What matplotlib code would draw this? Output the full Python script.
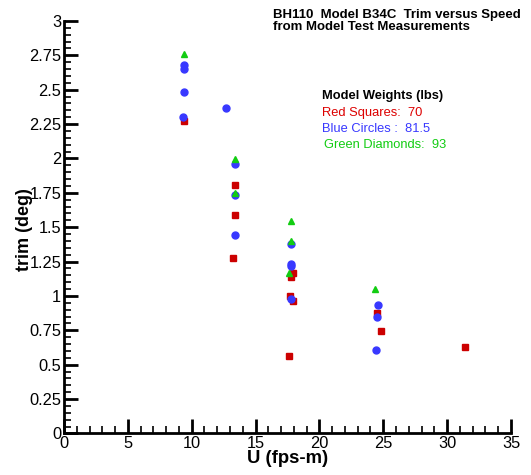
import matplotlib
matplotlib.use("Agg")
import matplotlib.pyplot as plt
from matplotlib.ticker import MultipleLocator

plt.rcParams["font.family"] = ["Liberation Sans", "DejaVu Sans"]

# Red squares: 70 lbs
red_u = [9.4, 13.4, 13.4, 13.2, 17.9, 17.8, 17.7, 17.9, 17.6, 24.5, 24.8, 31.4]
red_trim = [2.27, 1.805, 1.587, 1.274, 1.165, 1.136, 1.002, 0.961, 0.561, 0.876, 0.743, 0.627]

# Blue circles: 81.5 lbs
blue_u = [9.4, 9.4, 9.4, 12.66, 9.32, 13.4, 13.4, 13.4, 17.8, 17.8, 17.8, 17.8, 24.56, 24.53, 24.46]
blue_trim = [2.68, 2.651, 2.481, 2.369, 2.302, 1.958, 1.737, 1.446, 1.376, 1.233, 1.218, 0.976, 0.935, 0.845, 0.605]

# Green diamonds: 93 lbs
green_u = [9.42, 13.42, 13.4, 17.8, 17.8, 17.64, 24.35]
green_trim = [2.758, 1.994, 1.751, 1.543, 1.402, 1.169, 1.049]

RED = "#cc0000"
BLUE = "#3838ff"
GREEN = "#12cc12"

fig = plt.figure(figsize=(5.31, 4.75), dpi=100)
ax = fig.add_axes([0.1205, 0.0874, 0.8418, 0.8684])

ax.plot(red_u, red_trim, ls="none", marker="s", ms=3.8, color=RED, mec=RED)
ax.plot(blue_u, blue_trim, ls="none", marker="o", ms=5, color=BLUE, mec=BLUE)
ax.plot(green_u, green_trim, ls="none", marker="^", ms=4.5, color=GREEN, mec=GREEN)

ax.set_xlim(0, 35)
ax.set_ylim(0, 3)
ax.xaxis.set_major_locator(MultipleLocator(5))
ax.xaxis.set_minor_locator(MultipleLocator(1))
ax.yaxis.set_major_locator(MultipleLocator(0.25))
ax.yaxis.set_minor_locator(MultipleLocator(0.05))
ax.yaxis.set_major_formatter(plt.FuncFormatter(lambda v, p: f"{v:g}"))

for side in ("top", "right"):
    ax.spines[side].set_visible(False)
for side in ("left", "bottom"):
    ax.spines[side].set_linewidth(2)

ax.tick_params(which="major", direction="in", length=10, width=2, labelsize=11.8, pad=2)
ax.tick_params(which="minor", direction="in", length=5, width=1.2)

ax.set_xlabel("U (fps-m)", fontsize=13.3, fontweight="bold", labelpad=-1)
ax.set_ylabel("trim (deg)", fontsize=13, fontweight="bold")
ax.yaxis.set_label_coords(-0.069, 0.495)

fig.text(273 / 531, 1 - 21 / 475, "BH110  Model B34C  Trim versus Speed\nfrom Model Test Measurements",
         fontsize=9.5, fontweight="bold", ha="left", va="center", linespacing=1.0)

fig.text(322 / 531, 1 - 96.5 / 475, "Model Weights (lbs)", fontsize=9.3, fontweight="bold", va="center")
fig.text(322 / 531, 1 - 112.7 / 475, "Red Squares:  70", fontsize=9.3, color="#dd0000", va="center")
fig.text(322 / 531, 1 - 128.7 / 475, "Blue Circles :  81.5", fontsize=9.3, color=BLUE, va="center")
fig.text(324 / 531, 1 - 144.7 / 475, "Green Diamonds:  93", fontsize=9.3, color=GREEN, va="center")

fig.savefig("out.png", dpi=100)
